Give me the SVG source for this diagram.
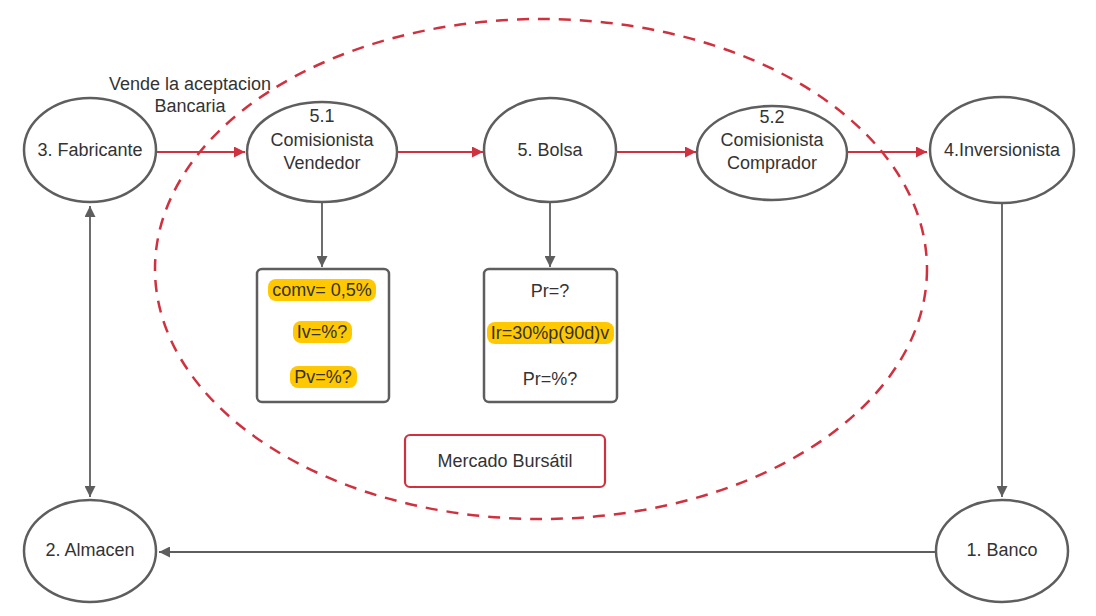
<svg xmlns="http://www.w3.org/2000/svg" width="1096" height="616" viewBox="0 0 1096 616">
<defs>
<style>
.node{fill:#fff;stroke:#5e5e5e;stroke-width:2.5}
.t{font-family:"Liberation Sans",Arial,sans-serif;font-size:18px;fill:#333;text-anchor:middle}
.red{stroke:#d0313f;stroke-width:1.8;fill:none}
.gray{stroke:#5e5e5e;stroke-width:1.8;fill:none}
.hl{fill:#ffc800}
.box{fill:#fff;stroke:#5e5e5e;stroke-width:2.5}
</style>
<marker id="ar" viewBox="0 0 10 10" refX="10" refY="5" markerWidth="12" markerHeight="11" markerUnits="userSpaceOnUse" orient="auto"><path d="M0,0 L10,5 L0,10 z" fill="#d0313f"/></marker>
<marker id="ag" viewBox="0 0 10 10" refX="10" refY="5" markerWidth="12" markerHeight="11" markerUnits="userSpaceOnUse" orient="auto-start-reverse"><path d="M0,0 L10,5 L0,10 z" fill="#5e5e5e"/></marker>
</defs>
<rect width="1096" height="616" fill="#fff"/>
<ellipse cx="541" cy="269" rx="386" ry="250" fill="none" stroke="#d0313f" stroke-width="2.5" stroke-dasharray="12,9"/>
<g id="connectors">
<line class="red" x1="157" y1="152" x2="245" y2="152" marker-end="url(#ar)"/>
<line class="red" x1="398" y1="152" x2="483" y2="152" marker-end="url(#ar)"/>
<line class="red" x1="617" y1="152" x2="696" y2="152" marker-end="url(#ar)"/>
<line class="red" x1="847" y1="152" x2="927" y2="152" marker-end="url(#ar)"/>
<line class="gray" x1="322" y1="203" x2="322" y2="267" marker-end="url(#ag)"/>
<line class="gray" x1="550" y1="203" x2="550" y2="267" marker-end="url(#ag)"/>
<line class="gray" x1="1002" y1="203" x2="1002" y2="497" marker-end="url(#ag)"/>
<line class="gray" x1="937" y1="552" x2="159" y2="552" marker-end="url(#ag)"/>
<line class="gray" x1="90" y1="206" x2="90" y2="497" marker-start="url(#ag)" marker-end="url(#ag)"/>
</g>
<text class="t" x="190" y="90">Vende la aceptacion</text>
<text class="t" x="190" y="112">Bancaria</text>
<g id="fabricante"><ellipse class="node" cx="90" cy="150" rx="66" ry="52"/><text class="t" x="90" y="156">3. Fabricante</text></g>
<g id="vendedor"><ellipse class="node" cx="322" cy="152" rx="75" ry="50"/><text class="t" x="322" y="122">5.1</text><text class="t" x="322" y="146">Comisionista</text><text class="t" x="322" y="169">Vendedor</text></g>
<g id="bolsa"><ellipse class="node" cx="550" cy="150" rx="66" ry="52"/><text class="t" x="550" y="156">5. Bolsa</text></g>
<g id="comprador"><ellipse class="node" cx="772" cy="153" rx="75" ry="47"/><text class="t" x="772" y="123">5.2</text><text class="t" x="772" y="146">Comisionista</text><text class="t" x="772" y="169">Comprador</text></g>
<g id="inversionista"><ellipse class="node" cx="1002" cy="150" rx="72" ry="53"/><text class="t" x="1002" y="156">4.Inversionista</text></g>
<g id="almacen"><ellipse class="node" cx="90" cy="551" rx="66" ry="51"/><text class="t" x="90" y="556">2. Almacen</text></g>
<g id="banco"><ellipse class="node" cx="1002" cy="551" rx="66" ry="51"/><text class="t" x="1002" y="556">1. Banco</text></g>
<g id="box-vendedor">
<rect class="box" x="257" y="269" width="132" height="133" rx="5"/>
<rect class="hl" x="268" y="279" width="108" height="22" rx="8"/>
<rect class="hl" x="293" y="321" width="59" height="22" rx="8"/>
<rect class="hl" x="290" y="366" width="67" height="22" rx="8"/>
<text class="t" x="322" y="296">comv= 0,5%</text>
<text class="t" x="322" y="338">Iv=%?</text>
<text class="t" x="323" y="383">Pv=%?</text>
</g>
<g id="box-bolsa">
<rect class="box" x="484" y="269" width="133" height="133" rx="5"/>
<rect class="hl" x="487" y="322" width="127" height="22" rx="8"/>
<text class="t" x="550" y="297">Pr=?</text>
<text class="t" x="550" y="339">Ir=30%p(90d)v</text>
<text class="t" x="550" y="385">Pr=%?</text>
</g>
<g id="mercado">
<rect x="405" y="435" width="200" height="52" rx="5" fill="#fff" stroke="#d0313f" stroke-width="2.2"/>
<text class="t" x="505" y="467">Mercado Bursátil</text>
</g>
</svg>
